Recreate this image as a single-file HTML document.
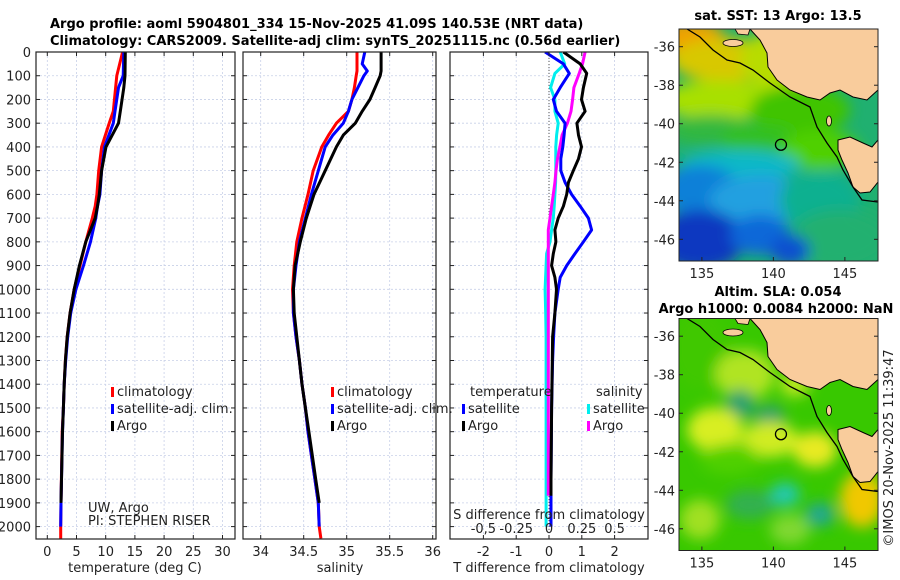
<!DOCTYPE html>
<html><head><meta charset="utf-8"><style>
html,body{margin:0;padding:0;background:#fff;}
svg{display:block;font-family:"DejaVu Sans","Liberation Sans",sans-serif;}
.t{font-size:13px;fill:#222;}
.b{font-size:13px;font-weight:bold;fill:#000;}
</style></head><body>
<svg id="fig" width="900" height="580" viewBox="0 0 900 580" xmlns="http://www.w3.org/2000/svg">
<defs>
<clipPath id="c1"><rect x="36" y="52" width="199" height="487"/></clipPath>
<clipPath id="c2"><rect x="243" y="52" width="193" height="487"/></clipPath>
<clipPath id="c3"><rect x="450" y="52" width="198" height="487"/></clipPath>
<clipPath id="cm"><rect x="679" y="29" width="199" height="232"/></clipPath>
<filter id="bl" x="-30%" y="-30%" width="160%" height="160%"><feGaussianBlur stdDeviation="7"/></filter>
</defs>
<text class="b" x="50" y="28">Argo profile: aoml 5904801_334 15-Nov-2025 41.09S 140.53E (NRT data)</text>
<text class="b" x="50" y="45">Climatology: CARS2009. Satellite-adj clim: synTS_20251115.nc (0.56d earlier)</text>
<g id="grid"></g>
<g id="marks"></g>
<g id="axes"></g>
<g id="maps"></g>
</svg>
<script>
// ---- data ----
const depthT = [0,100,150,250,300,400,500,600,650,700,800,900,1000,1100,1200,1300,1400,1500,1600,1900,2000];
const tempArgo = [13.35,13.3,13.1,12.5,12.2,10.05,9.3,8.9,8.6,8.2,6.6,5.5,4.6,3.9,3.4,3.1,2.9,2.75,2.6,2.35,null];
const tempClim = [12.9,11.9,11.7,11.3,10.6,9.3,8.8,8.5,8.2,7.7,6.6,5.6,4.6,3.9,3.4,3.1,2.9,2.75,2.55,2.35,2.3];
const tempSat  = [13.1,13.0,12.2,11.6,11.3,9.8,9.3,9.0,8.6,8.3,7.4,6.2,4.9,4.0,3.5,3.15,2.9,2.75,2.6,2.35,2.3];
const depthS = [0,50,80,100,150,200,250,300,350,400,500,600,700,800,900,1000,1100,1200,1300,1400,1500,1600,1700,1800,1900,2000];
const salArgo = [35.40,35.40,35.40,35.39,35.33,35.27,35.18,35.10,34.96,34.88,34.75,34.62,34.53,34.46,34.40,34.38,34.39,34.42,34.45,34.48,34.52,34.56,34.60,34.64,34.68,null];
const salClim = [35.12,35.12,35.12,35.11,35.09,35.06,35.02,34.88,34.79,34.71,34.61,34.55,34.48,34.42,34.39,34.37,34.38,34.41,34.45,34.48,34.52,34.55,34.59,34.63,34.67,34.68];
const salSat  = [35.21,35.18,35.24,35.20,35.13,35.06,35.02,34.96,34.84,34.75,34.67,34.59,34.52,34.45,34.41,34.38,34.38,34.41,34.45,34.48,34.52,34.55,34.59,34.63,34.67,34.68];
const depthD = [0,50,90,150,200,250,300,350,400,450,500,550,600,650,700,750,800,850,900,950,1000,1100,1200,1300,1500,1800,1870,2000];
const dTsat  = [-0.12,0.44,0.62,0.34,0.13,0.23,0.49,0.46,0.42,0.36,0.36,0.49,0.69,0.95,1.20,1.30,1.05,0.79,0.54,0.34,0.28,0.18,0.14,0.11,0.08,0.06,0.06,0.06];
const dTargo = [0.44,0.95,1.15,1.05,0.99,1.10,0.85,0.90,0.99,0.90,0.74,0.59,0.54,0.44,0.28,0.18,0.21,0.13,0.08,0.18,0.23,0.18,0.11,0.10,0.08,0.06,0.06,null];
const dSsat  = [0.085,0.12,0.045,0.012,0.045,0.045,0.07,0.058,0.052,0.052,0.052,0.05,0.045,0.04,0.033,0.02,0.008,-0.018,-0.022,-0.026,-0.03,-0.025,-0.022,-0.022,-0.022,-0.022,-0.022,-0.022];
const dSargo = [0.275,0.255,0.23,0.19,0.18,0.168,0.14,0.10,0.083,0.065,0.053,0.045,0.033,0.02,0.008,-0.005,-0.005,-0.005,-0.005,-0.005,-0.005,-0.005,-0.005,-0.005,-0.005,-0.005,-0.005,null];
const depthTicks = [0,100,200,300,400,500,600,700,800,900,1000,1100,1200,1300,1400,1500,1600,1700,1800,1900,2000];
const tTicks = [0,5,10,15,20,25,30];
const sTicks = [34,34.5,35,35.5,36];
const dTTicks = [-2,-1,0,1,2];
const dSTicks = [-0.5,-0.25,0,0.25,0.5];
const dSTickLabels = ["-0,5","-0.25","0","0.25","0.5"];
const latTicks = [-36,-38,-40,-42,-44,-46];
const lonTicks = [135,140,145];
const argoLat = -41.09, argoLon = 140.53;

// ---- scales ----
const yD = d => 52 + d*0.2373;
const xT = v => 47.3 + v*5.84;
const xS = v => 260.7 + (v-34)*86;
const xDT = v => 549 + v*32.8;
const xDS = v => 549 + v*4*32.8;
const mx = lon => 679 + (lon-133.4)*14.3;
const my = lat => 46.7 + (-36-lat)*19.26;

const NS="http://www.w3.org/2000/svg";
function mk(tag, attrs, parent){const e=document.createElementNS(NS,tag);for(const k in attrs)e.setAttribute(k,attrs[k]);parent.appendChild(e);return e;}
const G=document.getElementById('grid'), M=document.getElementById('marks'), A=document.getElementById('axes'), MP=document.getElementById('maps');

const panels=[{x0:36,x1:235,xt:tTicks.map(xT),lab:tTicks.map(String),name:'temperature'},
{x0:243,x1:436,xt:sTicks.map(xS),lab:["34","34.5","35","35.5","36"],name:'salinity'},
{x0:450,x1:648,xt:dTTicks.map(xDT),lab:dTTicks.map(String),name:'difference'}];
panels.forEach((p,i)=>{
  depthTicks.forEach(d=>{const l=mk('line',{x1:p.x0,x2:p.x1,y1:yD(d),y2:yD(d),stroke:'#c8d0e8','stroke-width':0.8,'stroke-dasharray':'2,2'},G);
    
    
    mk('line',{x1:p.x0,x2:p.x0+4,y1:yD(d),y2:yD(d),stroke:'#222'},A);
    mk('line',{x1:p.x1-4,x2:p.x1,y1:yD(d),y2:yD(d),stroke:'#222'},A);
    if(i===0){const t=mk('text',{x:31,y:yD(d)+5,'text-anchor':'end',class:'t'},A);t.textContent=d;
      
      }
  });
  p.xt.forEach((x,j)=>{const l=mk('line',{x1:x,x2:x,y1:52,y2:539,stroke:'#c8d0e8','stroke-width':0.8,'stroke-dasharray':'2,2'},G);
    
    
    mk('line',{x1:x,x2:x,y1:539,y2:535,stroke:'#222'},A);
    mk('line',{x1:x,x2:x,y1:52,y2:56,stroke:'#222'},A);
    const t=mk('text',{x:x,y:556,'text-anchor':'middle',class:'t'},A);t.textContent=p.lab[j];
    
    
  });
  const r=mk('rect',{x:p.x0,y:52,width:p.x1-p.x0,height:487,fill:'none',stroke:'#222','stroke-width':1.2},A);
  
  
});
mk('line',{x1:xDT(0),x2:xDT(0),y1:52,y2:539,stroke:'#555','stroke-width':1,'stroke-dasharray':'1,2'},G);

function line(xs, ds, fx, color, clip, name, w){
  let d='',pen=false;
  xs.forEach((v,i)=>{if(v===null){pen=false;return;} d+=(pen?'L':'M')+fx(v).toFixed(1)+','+yD(ds[i]).toFixed(1);pen=true;});
  const p=mk('path',{d:d,fill:'none',stroke:color,'stroke-width':w||3,'stroke-linejoin':'round','clip-path':'url(#'+clip+')'},M);
  
  
}
line(tempClim.concat([2.3]), depthT.concat([2050]), xT, '#f00','c1','temp-climatology-line');
line(tempSat, depthT, xT, '#00f','c1','temp-satellite-line');
line(tempArgo, depthT, xT, '#000','c1','temp-argo-line');
line(salClim.concat([34.70]), depthS.concat([2050]), xS, '#f00','c2','sal-climatology-line');
line(salSat, depthS, xS, '#00f','c2','sal-satellite-line');
line(salArgo, depthS, xS, '#000','c2','sal-argo-line');
line(dSsat, depthD, xDS, '#0ee','c3','sal-diff-satellite-line');
line(dSargo, depthD, xDS, '#f0f','c3','sal-diff-argo-line');
line(dTsat, depthD, xDT, '#00f','c3','temp-diff-satellite-line');
line(dTargo, depthD, xDT, '#000','c3','temp-diff-argo-line');

dSTicks.forEach((v,j)=>{const t=mk('text',{x:xDS(v),y:533,'text-anchor':'middle',class:'t'},A);t.textContent=dSTickLabels[j];
  
  });

function txt(x,y,s,name,anchor,size){const t=mk('text',{x:x,y:y,class:'t','text-anchor':anchor||'start'},A);if(size)t.setAttribute('font-size',size);t.textContent=s;
  
  return t;}
txt(135,572,'temperature (deg C)','x-axis-title-temperature','middle');
txt(340,572,'salinity','x-axis-title-salinity','middle');
txt(549,572,'T difference from climatology','x-axis-title-t-diff','middle');
txt(549,519,'S difference from climatology','s-diff-axis-title','middle');
txt(88,512,'UW, Argo','institution-label','start','11');
txt(88,525,'PI: STEPHEN RISER','pi-label','start','11');

function legend(x,y,color,label,name){
  mk('rect',{x:x,y:y-9,width:3,height:10,fill:color},A);
  txt(x+6,y,label,name);
}
legend(111,396,'#f00','climatology','legend-climatology');
legend(111,413,'#00f','satellite-adj. clim.','legend-satellite');
legend(111,430,'#000','Argo','legend-argo');
legend(331,396,'#f00','climatology','legend2-climatology');
legend(331,413,'#00f','satellite-adj. clim.','legend2-satellite');
legend(331,430,'#000','Argo','legend2-argo');
txt(470,396,'temperature','legend-temperature-heading');
txt(596,396,'salinity','legend-salinity-heading');
legend(462,413,'#00f','satellite','legend-t-satellite');
legend(462,430,'#000','Argo','legend-t-argo');
legend(587,413,'#0ee','satellite','legend-s-satellite');
legend(587,430,'#f0f','Argo','legend-s-argo');

// ---- maps ----
const landPts=[[750,29],[760,40],[767,53],[768,67],[777,80],[790,90],[807,97],[820,100],[830,93],[840,90],[853,97],[867,100],[878,90],[878,29]];
const tasPts=[[838,140],[850,137],[863,143],[872,147],[878,140],[878,182],[870,192],[860,193],[853,187],[848,173],[842,160],[838,150]];
const shelfPts=[[687,29],[700,37],[713,50],[727,60],[740,63],[753,70],[770,83],[790,97],[810,107],[817,127],[827,143],[837,157],[843,170],[853,187],[862,200],[878,202]];
const pts=a=>a.map(p=>p.join(',')).join(' ');
function drawMap(dy, blobs, base, name){
  const g=mk('g',{transform:'translate(0,'+dy+')'},MP);
  
  
  const cg=mk('g',{'clip-path':'url(#cm)'},g);
  mk('rect',{x:679,y:29,width:199,height:232,fill:base},cg);
  const bg=mk('g',{filter:'url(#bl)'},cg);
  blobs.forEach(b=>mk('ellipse',{cx:b[0],cy:b[1],rx:b[2],ry:b[3],fill:b[4]},bg));
  mk('polygon',{points:pts(landPts),fill:'#f9cc9c',stroke:'#000','stroke-width':1},cg);
  mk('polygon',{points:pts(tasPts),fill:'#f9cc9c',stroke:'#000','stroke-width':1},cg);
  mk('polygon',{points:'735,29 738,34 748,35 750,29',fill:'#f9cc9c',stroke:'#000','stroke-width':0.8},cg);
  mk('ellipse',{cx:733,cy:43,rx:10,ry:3.5,fill:'#f9cc9c',stroke:'#000','stroke-width':0.8},cg);
  mk('ellipse',{cx:829,cy:121,rx:2.5,ry:5,fill:'#f9cc9c',stroke:'#000','stroke-width':0.8},cg);
  mk('polyline',{points:pts(shelfPts),fill:'none',stroke:'#000','stroke-width':1.3},cg);
  const c=mk('circle',{cx:mx(argoLon),cy:my(argoLat),r:5.5,fill:'none',stroke:'#000','stroke-width':1.3},g);
  
  
  mk('rect',{x:679,y:29,width:199,height:232,fill:'none',stroke:'#222','stroke-width':1},g);
  latTicks.forEach(l=>{mk('line',{x1:679,x2:683,y1:my(l),y2:my(l),stroke:'#222'},g);mk('line',{x1:874,x2:878,y1:my(l),y2:my(l),stroke:'#222'},g);
    const t=mk('text',{x:675,y:my(l)+5,'text-anchor':'end',class:'t'},g);t.textContent=l;
    
    });
  lonTicks.forEach(l=>{mk('line',{x1:mx(l),x2:mx(l),y1:261,y2:257,stroke:'#222'},g);
    const t=mk('text',{x:mx(l),y:278,'text-anchor':'middle',class:'t'},g);t.textContent=l;
    
    });
}
drawMap(0,[
 [690,38,35,18,'#f0a000'],[725,60,55,22,'#d8c800'],[780,60,40,30,'#b8dc00'],
 [720,100,60,20,'#a8e000'],[800,110,50,25,'#40c400'],[710,130,45,15,'#30b840'],
 [760,140,40,15,'#30c020'],[820,150,40,20,'#50d000'],
 [740,165,60,15,'#10b8c8'],[700,190,40,25,'#1080d8'],[760,200,50,25,'#20a0e0'],
 [700,240,45,30,'#0838c0'],[760,235,30,20,'#1068d8'],[820,200,40,30,'#10b090'],[840,240,50,30,'#20b070'],[790,250,20,15,'#0850d0']
],'#20b070','sst-map');
drawMap(289.5,[
 [700,60,30,40,'#40c800'],[745,85,30,25,'#b0e420'],[740,115,15,15,'#20a070'],[715,140,28,22,'#d8ee20'],
 [770,130,15,15,'#30a070'],[770,150,28,18,'#d0ec20'],[815,160,22,18,'#e8ea20'],[730,170,30,15,'#50d000'],
 [750,215,25,15,'#30b050'],[785,205,15,12,'#20c8b0'],[820,225,15,12,'#20a890'],[862,210,22,28,'#f0c800'],
 [700,230,20,20,'#a0e020'],[790,240,20,15,'#80d830'],[795,95,15,12,'#c0e820']
],'#38c800','sla-map');
[[778,20,'sat. SST: 13 Argo: 13.5','sst-map-title'],[778,296,'Altim. SLA: 0.054','sla-map-title'],[776,313,'Argo h1000: 0.0084 h2000: NaN','sla-map-subtitle']].forEach(a=>{
  const t=mk('text',{x:a[0],y:a[1],'text-anchor':'middle',class:'b'},MP);t.textContent=a[2];
  
  });
const ts=mk('text',{x:0,y:0,class:'t',transform:'translate(893,448) rotate(-90)','text-anchor':'middle'},MP);
ts.textContent='©IMOS 20-Nov-2025 11:39:47';


</script>
</body></html>
